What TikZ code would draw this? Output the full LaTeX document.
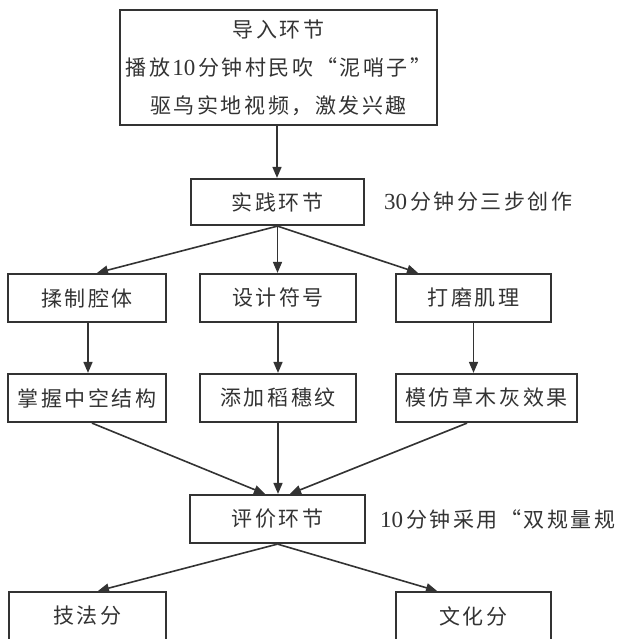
\documentclass[tikz,border=0pt]{standalone}
\usepackage{fontspec}
\setmainfont{Noto Sans CJK SC}[LetterSpace=12]
\newfontfamily\digitfont{Liberation Serif}
\newcommand{\dg}[1]{\hspace{2pt}{\digitfont\fontsize{23}{38}\selectfont #1}\hspace{3pt}}
\usetikzlibrary{arrows.meta}
\definecolor{ink}{HTML}{333333}
\begin{document}
\begin{tikzpicture}[x=1pt,y=-1pt,
  box/.style={draw=ink,line width=2.2pt,fill=white,inner sep=0pt,
    minimum height=48pt,text=ink,font=\fontsize{21}{38}\selectfont,align=center},
  arr/.style={draw=ink,line width=1.6pt,-{Triangle[length=11pt,width=9pt]}},
  side/.style={anchor=west,text=ink,inner sep=0pt,font=\fontsize{21}{24}\selectfont}]
\useasboundingbox (0,0) rectangle (621,639);
\fill[white] (0,0) rectangle (621,639);

\node[box,minimum width=317pt,minimum height=115pt] (top) at (278.5,67.5)
  {导入环节\\播放\dg{10}分钟村民吹“泥哨子”\\驱鸟实地视频，激发兴趣};
\node[box,minimum width=173pt,minimum height=46pt] (prac) at (277.5,202) {实践环节};
\node[side] (pracnote) at (382,202) {\dg{30}分钟分三步创作};

\node[box,minimum width=158pt] (r1a) at (87,298) {揉制腔体};
\node[box,minimum width=156pt] (r1b) at (278,298) {设计符号};
\node[box,minimum width=155pt] (r1c) at (473.5,298) {打磨肌理};

\node[box,minimum width=158pt] (r2a) at (87,398) {掌握中空结构};
\node[box,minimum width=156pt] (r2b) at (278,398) {添加稻穗纹};
\node[box,minimum width=181pt] (r2c) at (486.5,398) {模仿草木灰效果};

\node[box,minimum width=175pt] (eval) at (277.5,519) {评价环节};
\node[side] (evalnote) at (378,519) {\dg{10}分钟采用“双规量规};

\node[box,minimum width=157pt] (b1) at (87.5,616) {技法分};
\node[box,minimum width=155pt] (b2) at (473.5,616) {文化分};

\draw[arr] ([xshift=-1.5pt]top.south) -- ([xshift=-0.5pt]prac.north);
\draw[arr] (prac.south) -- ([xshift=10pt]r1a.north);
\draw[arr] (prac.south) -- ([xshift=-0.5pt]r1b.north);
\draw[arr] (prac.south) -- ([xshift=-55.5pt]r1c.north);

\draw[arr] ([xshift=1pt]r1a.south) -- ([xshift=1pt]r2a.south |- r2a.north);
\draw[arr] (r1b.south) -- (r2b.north);
\draw[arr] (r1c.south) -- (r1c.south |- r2c.north);

\draw[arr] ([xshift=5pt]r2a.south) -- ([xshift=-12.5pt]eval.north);
\draw[arr] (r2b.south) -- ([xshift=0.5pt]eval.north);
\draw[arr] ([xshift=-19.5pt]r2c.south) -- ([xshift=12.5pt]eval.north);

\draw[arr] (eval.south) -- ([xshift=10.5pt]b1.north);
\draw[arr] (eval.south) -- ([xshift=-36.5pt]b2.north);
\end{tikzpicture}
\end{document}
